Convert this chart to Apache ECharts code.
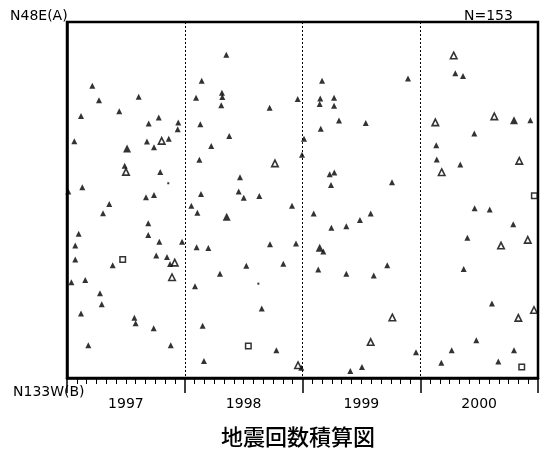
<!DOCTYPE html>
<html>
<head>
<meta charset="utf-8">
<script src="https://cdn.jsdelivr.net/npm/echarts@6/dist/echarts.min.js"></script>
<style>
html,body{margin:0;padding:0;background:#fff;}
#c{width:542px;height:452px;}
</style>
</head>
<body>
<div id="c"></div>
<script>
// Year labels (centered in each year band)
const yearLabels = ['1997', '1998', '1999', '2000'];
const topLabel = 'N48E(A)';
const bottomLabel = 'N133W(B)';
const countLabel = 'N=153';
const chartTitle = '地震回数積算図';

// [time (decimal year), relative direction position 0..100 from N133W(B) to N48E(A)]
const filledPts = [
  [1997.215,82.1],[1997.272,78.0],[1997.609,79.0],[1997.444,74.9],[1997.119,73.6],[1997.779,73.2],
  [1997.694,71.5],[1997.945,71.8],[1997.940,69.9],[1997.062,66.5],[1997.679,66.4],[1997.864,67.2],
  [1997.739,64.8],[1997.490,59.6],[1997.792,57.9],[1997.130,53.6],[1997.011,52.4],[1997.671,50.8],
  [1997.739,51.4],[1997.359,48.9],[1997.306,46.3],[1997.099,40.5],[1997.690,43.5],[1997.690,40.2],
  [1997.784,38.3],[1997.977,38.3],[1997.070,37.2],[1997.070,33.3],[1997.388,31.7],[1997.758,34.4],
  [1997.849,34.0],[1997.875,32.0],[1997.037,26.9],[1997.155,27.5],[1997.280,23.8],[1997.295,20.7],
  [1997.119,18.1],[1997.572,16.9],[1997.583,15.4],[1997.736,14.0],[1997.181,9.2],[1997.881,9.2],
  [1998.353,90.8],[1998.144,83.5],[1998.316,80.1],[1998.319,78.9],[1998.096,78.7],[1998.959,78.4],
  [1998.310,76.6],[1998.721,75.9],[1998.132,71.3],[1998.378,68.0],[1999.013,67.2],[1998.225,65.2],
  [1998.124,61.3],[1998.996,62.7],[1998.469,56.4],[1998.138,51.7],[1998.458,52.4],[1998.501,50.6],
  [1998.633,51.1],[1998.056,48.4],[1998.911,48.4],[1998.107,46.4],[1998.101,36.7],[1998.200,36.5],
  [1998.724,37.6],[1998.945,37.8],[1998.523,31.5],[1998.837,32.1],[1998.299,29.3],[1998.087,25.8],
  [1998.654,19.5],[1998.152,14.7],[1998.778,7.8],[1998.163,4.8],[1998.990,2.9],
  [1999.166,83.5],[1999.896,84.1],[1999.151,78.5],[1999.146,77.0],[1999.268,78.7],[1999.268,76.5],
  [1999.310,72.3],[1999.537,71.6],[1999.155,70.0],[1999.231,57.2],[1999.270,57.7],[1999.242,54.2],
  [1999.760,55.0],[1999.095,46.2],[1999.579,46.2],[1999.488,44.4],[1999.245,42.2],[1999.372,42.6],
  [1999.177,35.5],[1999.134,30.5],[1999.372,29.3],[1999.605,28.8],[1999.720,31.7],[1999.964,7.2],
  [1999.505,3.1],[1999.406,2.0],
  [2000.298,85.6],[2000.363,84.8],[2000.935,72.4],[2000.459,68.7],[2000.136,65.4],[2000.140,61.4],
  [2000.340,60.0],[2000.462,47.7],[2000.590,47.3],[2000.790,43.2],[2000.400,39.4],[2000.369,30.6],
  [2000.609,20.9],[2000.476,10.6],[2000.267,7.8],[2000.796,7.8],[2000.179,4.3],[2000.663,4.6]
];
const bigPts = [
  [1997.510,64.5],[1998.356,45.3],[1999.146,36.6],[2000.796,72.4]
];
const hollowPts = [
  [1997.804,66.6],[1997.501,57.9],[1997.915,32.4],[1997.892,28.3],
  [1998.766,60.3],[1998.962,3.6],
  [1999.763,17.0],[1999.579,10.1],
  [2000.284,90.6],[2000.128,71.8],[2000.629,73.5],[2000.841,61.0],[2000.182,57.8],
  [2000.686,37.2],[2000.913,38.8],[2000.966,19.1],[2000.833,16.9]
];
const squarePts = [
  [1997.473,33.3],[1998.540,9.0],[2000.969,51.2],[2000.862,3.1]
];
const dotPts = [
  [1997.860,54.7],[1998.625,26.5]
];

const chart = echarts.init(document.getElementById('c'), null, {renderer: 'canvas'});
const FONT = '"DejaVu Sans", "Liberation Sans", sans-serif';
chart.setOption({
  animation: false,
  backgroundColor: '#fff',
  grid: {
    left: 67, right: 4, top: 22, bottom: 74,
    show: true, borderColor: '#000', borderWidth: 2.5, backgroundColor: 'transparent'
  },
  xAxis: [
    {
      type: 'value', min: 1997, max: 2001, interval: 1, position: 'bottom',
      axisLine: {show: true, onZero: false, lineStyle: {color: '#000', width: 2.5}},
      axisTick: {show: true, length: 15, lineStyle: {color: '#000', width: 1.5}},
      minorTick: {show: true, splitNumber: 12, length: 6, lineStyle: {color: '#000', width: 1}},
      axisLabel: {show: false},
      splitLine: {show: true, lineStyle: {color: '#000', type: [2, 2], width: 1}},
      minorSplitLine: {show: false}
    },
    {
      type: 'category', data: yearLabels, position: 'bottom', boundaryGap: true,
      axisLine: {show: false}, axisTick: {show: false}, splitLine: {show: false},
      axisLabel: {show: true, margin: 19, color: '#000', fontSize: 14, fontFamily: FONT}
    }
  ],
  yAxis: {
    type: 'value', min: 0, max: 100,
    axisLine: {show: true, lineStyle: {color: '#000', width: 2.5}},
    axisTick: {show: false}, axisLabel: {show: false}, splitLine: {show: false}
  },
  graphic: [
    {type: 'text', x: 10, y: 16, style: {text: topLabel, fill: '#000', font: '14px ' + FONT, align: 'left', verticalAlign: 'middle'}},
    {type: 'text', x: 464, y: 16, style: {text: countLabel, fill: '#000', font: '14px ' + FONT, align: 'left', verticalAlign: 'middle'}},
    {type: 'text', x: 13, y: 392, style: {text: bottomLabel, fill: '#000', font: '14px ' + FONT, align: 'left', verticalAlign: 'middle'}},
    {type: 'text', x: 298, y: 437, style: {text: chartTitle, fill: '#000', font: '500 22px "Noto Sans CJK JP", sans-serif', align: 'center', verticalAlign: 'middle'}}
  ],
  series: [
    {type: 'scatter', data: filledPts, symbol: 'triangle', symbolSize: 6, itemStyle: {color: '#000'}},
    {type: 'scatter', data: bigPts, symbol: 'triangle', symbolSize: 8, itemStyle: {color: '#000'}},
    {type: 'scatter', data: hollowPts, symbol: 'triangle', symbolSize: 6.5, itemStyle: {color: '#fff', borderColor: '#000', borderWidth: 1.6}},
    {type: 'scatter', data: squarePts, symbol: 'rect', symbolSize: 5.5, itemStyle: {color: '#fff', borderColor: '#000', borderWidth: 1.5}},
    {type: 'scatter', data: dotPts, symbol: 'rect', symbolSize: 2, itemStyle: {color: '#000'}}
  ]
});
</script>
</body>
</html>
